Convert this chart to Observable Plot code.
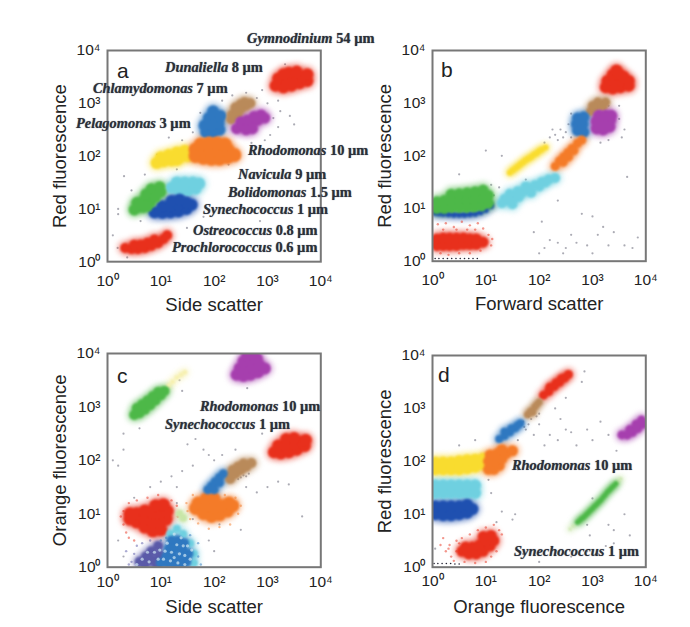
<!DOCTYPE html>
<html>
<head>
<meta charset="utf-8">
<script src="https://cdn.jsdelivr.net/npm/d3@7"></script>
<script src="https://cdn.jsdelivr.net/npm/@observablehq/plot@0.6"></script>
<style>
   body { margin: 0; background: #fff; }
   #fig { position: relative; width: 690px; height: 627px; overflow: hidden; }
   #fig svg { position: absolute; overflow: visible; background: none; }
   .lab { position: absolute; white-space: nowrap; transform: translateY(-50%); line-height: 1;
      font-family: "Liberation Serif", serif; font-weight: bold; font-size: 14.4px; color: #2b3038; text-shadow: 0 0 1px #667; }
   .lab i { font-style: italic; }
   .let { position: absolute; transform: translateY(-50%); line-height: 0.9;
      font-family: "Liberation Sans", sans-serif; font-size: 21px; color: #222; }
</style>
</head>
<body>
<div id="fig"></div>
<script>
"use strict";

// all points are log10 values [x, y]
const tick_values = [1, 10, 100, 1000, 10000]
const tick_labels = ["10⁰", "10¹", "10²", "10³", "10⁴"]

const a_gym = [[3.15,3.33],[3.3,3.3],[3.45,3.33],[3.6,3.38],[3.75,3.42],[3.2,3.47],[3.35,3.45],[3.5,3.47],[3.65,3.5],[3.75,3.55],[3.4,3.58],[3.55,3.6],[3.3,3.55]]
const a_brown = [[2.33,2.78],[2.42,2.84],[2.5,2.9],[2.6,2.96],[2.68,3.0],[2.4,2.92],[2.5,2.98],[2.57,3.02],[2.32,2.7],[2.44,2.8]]
const a_purple = [[2.42,2.52],[2.55,2.55],[2.68,2.6],[2.82,2.68],[2.95,2.72],[2.5,2.65],[2.62,2.68],[2.75,2.75],[2.88,2.78],[2.6,2.5],[2.72,2.52]]
const a_blue = [[1.85,2.45],[1.98,2.45],[2.1,2.5],[1.82,2.58],[1.95,2.6],[2.08,2.62],[1.9,2.72],[2.02,2.75],[2.12,2.76],[1.98,2.85]]
const a_orange = [[1.65,2.0],[1.8,1.97],[1.95,1.95],[2.1,1.95],[2.25,1.98],[2.38,2.02],[1.65,2.12],[1.8,2.12],[1.95,2.1],[2.1,2.1],[2.25,2.12],[1.75,2.22],[1.9,2.24],[2.05,2.24],[2.2,2.22]]
const a_yellow = [[0.92,1.87],[1.05,1.9],[1.2,1.92],[1.35,1.97],[1.5,2.0],[1.0,1.98],[1.15,2.02],[1.3,2.07],[1.45,2.1],[1.3,1.93]]
const a_cyan = [[1.2,1.4],[1.35,1.35],[1.5,1.35],[1.65,1.38],[1.3,1.5],[1.45,1.5],[1.6,1.5],[1.72,1.48],[1.4,1.42]]
const a_green = [[0.5,0.98],[0.55,1.02],[0.67,1.03],[0.8,1.12],[0.55,1.12],[0.68,1.17],[0.82,1.25],[0.72,1.28],[0.9,1.35],[0.82,1.38],[0.98,1.42],[0.62,1.08],[0.75,1.05],[0.9,1.22],[1.0,1.32]]
const a_navy = [[0.88,0.93],[1.03,0.92],[1.18,0.93],[1.33,0.95],[1.48,1.0],[1.58,1.08],[1.03,1.05],[1.18,1.05],[1.33,1.08],[1.48,1.12],[1.2,1.15],[1.35,1.18]]
const a_pro = [[0.33,0.26],[0.45,0.24],[0.57,0.24],[0.7,0.26],[0.82,0.3],[0.95,0.35],[1.05,0.43],[1.12,0.5],[0.5,0.32],[0.62,0.32],[0.75,0.36],[0.88,0.42]]
const a_specks = [[1.74,2.82],[2.15,3.05],[2.34,3.15],[3.33,3.74],[3.24,2.85],[3.42,2.76],[3.11,2.72],[1.15,2.35],[0.31,1.62],[0.93,2.03],[2.27,1.84],[0.19,0.26],[0.37,0.08],[0.62,0.77],[1.49,0.64],[2.86,0.77],[0.1,0.5],[0.2,0.9],[3.2,2.55],[3.5,2.6],[2.8,3.1],[2.9,3.25],[2.6,3.2],[1.6,2.45],[1.4,2.3],[1.3,1.75],[0.7,1.65],[0.45,1.35],[0.2,1.0],[1.8,0.85],[3.05,2.4],[2.95,2.3],[2.7,2.25],[3.0,3.0],[3.2,3.05]]

const b_red = [[3.25,3.3],[3.38,3.28],[3.52,3.3],[3.68,3.33],[3.28,3.42],[3.42,3.42],[3.56,3.42],[3.68,3.42],[3.38,3.54],[3.5,3.55],[3.58,3.5],[3.45,3.62]]
const b_brown = [[2.96,2.84],[3.05,2.92],[3.15,2.98],[3.25,3.02],[3.1,3.02],[3.0,2.95],[3.2,2.94]]
const b_purple = [[3.08,2.52],[3.2,2.5],[3.32,2.55],[3.08,2.65],[3.2,2.65],[3.33,2.68],[3.12,2.76],[3.25,2.76],[3.35,2.76]]
const b_blue = [[2.72,2.48],[2.84,2.45],[2.7,2.6],[2.82,2.6],[2.72,2.72],[2.84,2.74],[2.78,2.66]]
const b_orange = [[2.3,1.8],[2.38,1.9],[2.46,1.98],[2.54,2.06],[2.62,2.14],[2.72,2.24],[2.8,2.3],[2.45,1.88],[2.55,1.98],[2.65,2.1]]
const b_yellow = [[1.45,1.68],[1.5,1.72],[1.55,1.76],[1.6,1.8],[1.65,1.84],[1.7,1.88],[1.75,1.92],[1.8,1.95],[1.85,1.98],[1.9,2.02],[1.95,2.05],[2.0,2.09],[2.05,2.12],[2.12,2.16]]
const b_cyan = [[1.3,1.1],[1.42,1.15],[1.55,1.2],[1.68,1.3],[1.8,1.38],[1.92,1.44],[2.05,1.5],[2.18,1.55],[2.3,1.58],[1.45,1.28],[1.6,1.33],[1.75,1.42],[1.5,1.08],[1.85,1.3],[2.0,1.42],[1.35,1.18],[1.62,1.22],[2.12,1.5]]
const b_navy = [[0.05,0.92],[0.12,0.91],[0.2,0.9],[0.3,0.89],[0.4,0.88],[0.5,0.88],[0.6,0.88],[0.7,0.89],[0.8,0.9],[0.9,0.93],[1.0,0.97],[1.1,1.05]]
const b_green = [[0.08,1.0],[0.22,1.0],[0.36,1.02],[0.5,1.02],[0.64,1.02],[0.78,1.03],[0.92,1.05],[1.05,1.1],[0.08,1.13],[0.22,1.15],[0.36,1.15],[0.5,1.17],[0.64,1.17],[0.78,1.18],[0.92,1.2],[1.05,1.25],[0.35,1.27],[0.5,1.28],[0.65,1.3],[0.8,1.32],[0.95,1.35]]
const b_pro = [[0.08,0.3],[0.08,0.42],[0.2,0.3],[0.2,0.44],[0.32,0.3],[0.32,0.44],[0.45,0.3],[0.45,0.44],[0.58,0.32],[0.58,0.44],[0.7,0.32],[0.7,0.42],[0.82,0.32],[0.82,0.42],[0.95,0.36]]
const b_pro_fringe = [[0.1,0.7],[0.25,0.72],[0.4,0.65],[0.55,0.75],[0.7,0.68],[0.85,0.72],[0.95,0.62],[0.15,0.15],[0.3,0.12],[0.5,0.15],[0.7,0.15],[0.9,0.2],[1.05,0.5],[1.1,0.3],[1.12,0.42],[0.2,0.6],[0.45,0.6],[0.65,0.6],[0.8,0.6]]
const b_specks = [[2.1,2.25],[2.2,2.35],[2.3,2.4],[2.4,2.5],[2.5,2.45],[2.55,2.6],[2.35,2.3],[2.25,2.5],[2.45,2.35],[2.6,2.35],[2.6,2.8],[3.5,2.7],[3.6,2.5],[3.55,2.35],[3.3,2.3],[3.15,2.25],[3.3,2.95],[3.5,2.95],[1.0,2.1],[1.3,2.0],[0.5,1.65],[3.65,1.6],[1.25,1.4],[1.15,1.25],[1.1,1.45],[1.75,1.55],[2.35,1.15],[2.8,0.9],[3.0,0.85],[3.2,0.65],[2.2,0.4],[2.35,0.35],[2.1,0.25],[2.0,0.15],[2.45,0.15],[2.6,0.5],[2.7,0.35],[2.9,0.3],[3.1,0.5],[3.3,0.3],[3.4,0.55],[3.6,0.3],[3.75,0.25],[3.85,0.45],[2.05,0.75],[1.9,0.55],[3.0,0.15],[2.5,0.25]]
const b_black = [[0.05,0.05],[0.12,0.05],[0.2,0.05],[0.28,0.05],[0.36,0.05],[0.44,0.05],[0.52,0.05],[0.6,0.05],[0.68,0.05],[0.76,0.05],[0.84,0.05]]

const c_purple = [[2.42,3.6],[2.55,3.58],[2.68,3.6],[2.82,3.65],[2.95,3.72],[2.48,3.72],[2.6,3.72],[2.72,3.74],[2.85,3.78],[2.55,3.85],[2.68,3.88],[2.8,3.9],[2.62,3.97],[2.75,3.97]]
const c_green = [[0.5,2.85],[0.6,2.88],[0.7,2.95],[0.8,3.03],[0.9,3.12],[1.0,3.22],[1.07,3.3],[0.55,2.98],[0.65,3.05],[0.75,3.12],[0.85,3.2],[0.95,3.28]]
const c_tail = [[1.15,3.4],[1.22,3.47],[1.3,3.55],[1.38,3.6],[1.45,3.65]]
const c_red = [[3.12,2.15],[3.25,2.13],[3.4,2.15],[3.55,2.2],[3.7,2.27],[3.2,2.28],[3.35,2.28],[3.5,2.3],[3.65,2.35],[3.35,2.4],[3.5,2.42],[3.72,2.38]]
const c_brown = [[2.3,1.72],[2.4,1.75],[2.5,1.82],[2.6,1.88],[2.7,1.95],[2.35,1.82],[2.45,1.88],[2.55,1.94],[2.3,1.65]]
const c_blue = [[1.88,1.45],[1.95,1.52],[2.02,1.6],[2.1,1.68],[2.17,1.75],[2.0,1.45],[2.1,1.58]]
const c_orange = [[1.65,1.1],[1.8,1.0],[1.95,0.95],[2.1,0.98],[2.25,1.05],[2.35,1.15],[1.7,1.2],[1.85,1.15],[2.0,1.12],[2.15,1.15],[2.28,1.2],[1.85,1.28],[2.0,1.28]]
const c_orange_fringe = [[1.48,1.2],[1.5,1.05],[1.55,0.9],[1.7,0.82],[1.9,0.72],[2.1,0.75],[2.3,0.8],[2.45,1.0],[2.5,1.15],[2.4,1.3],[2.2,1.35],[1.6,1.35]]
const c_pro = [[0.42,0.9],[0.55,0.85],[0.7,0.75],[0.85,0.68],[1.0,0.7],[0.42,1.0],[0.55,1.0],[0.7,0.9],[0.85,0.85],[1.0,0.85],[1.1,0.9],[0.7,1.05],[0.85,1.02],[1.0,1.02],[1.12,1.05],[0.9,1.15],[1.05,1.17]]
const c_pro_fringe = [[0.25,0.95],[0.3,0.8],[0.35,0.65],[0.4,0.55],[0.5,0.5],[0.3,1.05],[0.4,1.2],[0.55,1.25],[0.75,1.3],[0.95,1.35],[1.2,1.25],[1.3,1.15],[1.32,0.95]]
const c_pale = [[1.35,1.0],[1.42,0.92]]
const c_cyan = [[1.3,0.72],[1.42,0.62],[1.55,0.45],[1.62,0.25],[1.62,0.08],[1.18,0.62]]
const c_navy = [[1.2,0.5],[1.32,0.5],[1.44,0.45],[1.15,0.35],[1.28,0.35],[1.42,0.3],[1.52,0.25],[1.1,0.2],[1.22,0.2],[1.35,0.15],[1.48,0.1],[1.0,0.08],[1.12,0.08],[1.25,0.05],[1.4,0.03]]
const c_navy_fringe = [[1.1,0.55],[1.0,0.5],[1.55,0.6],[1.7,0.45],[1.7,0.2],[1.75,0.05]]
const c_violet = [[0.6,0.1],[0.72,0.2],[0.82,0.3],[0.95,0.4],[0.7,0.05],[0.85,0.12],[0.98,0.22],[0.92,0.05]]
const c_violet_fringe = [[0.45,0.1],[0.5,0.25],[0.55,0.4],[0.65,0.45],[0.8,0.5],[0.35,0.3],[0.4,0.05]]
const c_gaps = [[1.25,0.62],[1.38,0.55],[1.5,0.4],[1.12,0.45],[1.3,0.42],[1.45,0.22],[1.2,0.28],[1.35,0.25],[1.55,0.15],[1.05,0.15],[1.18,0.12],[1.32,0.08],[1.45,0.05],[0.95,0.15],[0.78,0.1],[0.65,0.15],[0.88,0.28],[0.75,0.28],[0.98,0.32],[0.55,0.05],[1.08,0.3],[1.25,0.18],[1.42,0.4],[1.58,0.32]]
const c_specks = [[1.3,1.5],[1.5,2.3],[1.65,2.4],[1.8,2.2],[1.9,2.1],[1.6,1.9],[1.4,1.8],[1.2,1.7],[1.0,1.6],[0.8,1.5],[0.2,1.9],[0.1,2.0],[0.3,2.2],[2.0,2.0],[2.15,2.1],[2.4,2.2],[2.9,2.5],[3.2,1.6],[3.4,1.55],[3.65,0.95],[3.0,1.5],[2.8,1.4],[2.6,1.5],[2.5,0.7],[1.9,0.5],[2.0,0.3],[1.6,0.9],[1.3,1.2],[0.5,1.3],[0.2,0.5],[0.3,0.2],[2.55,1.72],[2.6,1.7],[2.5,1.68],[2.45,1.65],[2.65,1.75],[2.62,3.35],[2.1,0.8],[1.2,2.6],[0.6,2.6],[0.3,2.5],[2.2,3.0],[1.4,3.3],[1.35,3.5]]

const d_red = [[2.08,3.25],[2.18,3.32],[2.28,3.42],[2.38,3.5],[2.48,3.58],[2.55,3.64],[2.2,3.4],[2.32,3.48],[2.42,3.56]]
const d_brown = [[1.78,2.88],[1.82,2.92],[1.85,2.95],[1.92,3.03],[1.96,3.08],[2.0,3.12],[1.88,2.93]]
const d_blue = [[1.25,2.42],[1.35,2.48],[1.45,2.55],[1.55,2.63],[1.65,2.72],[1.35,2.56],[1.48,2.62],[1.6,2.68]]
const d_orange = [[1.05,1.85],[1.15,1.85],[1.25,1.92],[1.05,2.0],[1.18,2.02],[1.3,2.05],[1.08,2.12],[1.22,2.15],[1.38,2.15],[1.5,2.2],[1.3,2.22]]
const d_yellow = [[0.05,1.85],[0.2,1.85],[0.35,1.85],[0.5,1.85],[0.65,1.87],[0.8,1.9],[0.95,1.95],[0.05,1.98],[0.2,1.98],[0.35,1.98],[0.5,2.0],[0.65,2.02],[0.8,2.03],[0.95,2.05]]
const d_cyan = [[0.05,1.4],[0.2,1.4],[0.35,1.4],[0.5,1.4],[0.65,1.4],[0.8,1.4],[0.05,1.55],[0.2,1.55],[0.35,1.55],[0.5,1.55],[0.65,1.55],[0.8,1.55]]
const d_navy = [[0.05,1.0],[0.2,0.98],[0.35,0.98],[0.5,1.0],[0.65,1.03],[0.05,1.15],[0.2,1.15],[0.35,1.15],[0.5,1.15],[0.65,1.18],[0.75,1.1]]
const d_purple = [[3.55,2.5],[3.65,2.5],[3.75,2.55],[3.85,2.62],[3.95,2.7],[3.7,2.6],[3.82,2.7],[3.92,2.78]]
const d_green = [[2.72,0.85],[2.76,0.88],[2.8,0.92],[2.84,0.95],[2.88,0.99],[2.92,1.03],[2.96,1.07],[3.0,1.11],[3.04,1.15],[3.08,1.19],[3.12,1.23],[3.16,1.27],[3.2,1.32],[3.24,1.37],[3.28,1.42],[3.32,1.46],[3.36,1.5],[3.4,1.54],[3.44,1.58]]
const d_tail = [[2.58,0.72],[2.64,0.78],[3.48,1.62],[3.53,1.67]]
const d_pro = [[0.55,0.3],[0.68,0.25],[0.82,0.25],[0.95,0.3],[1.08,0.4],[1.15,0.5],[0.62,0.38],[0.75,0.38],[0.88,0.42],[1.0,0.5],[1.1,0.6],[0.95,0.58]]
const d_pro_fringe = [[0.15,0.42],[0.25,0.3],[0.32,0.42],[0.2,0.55],[0.35,0.2],[0.45,0.5],[0.4,0.12],[0.55,0.55],[0.6,0.1],[0.7,0.62],[0.8,0.08],[0.85,0.7],[1.0,0.1],[1.15,0.8],[1.25,0.7],[1.3,0.62],[1.2,0.3],[0.3,0.35],[0.5,0.45],[0.45,0.3],[1.1,0.2],[1.0,0.75]]
const d_specks = [[1.75,2.6],[1.9,2.5],[2.0,2.7],[2.2,2.5],[2.1,2.3],[2.35,2.4],[2.5,2.6],[2.6,2.55],[2.7,2.3],[2.4,2.8],[2.9,2.6],[3.0,2.4],[3.15,2.75],[3.3,2.5],[3.45,2.2],[1.6,2.4],[1.8,2.85],[2.0,2.9],[2.3,3.0],[2.2,3.3],[2.5,3.2],[2.8,3.5],[2.85,3.7],[1.6,1.85],[1.8,1.9],[0.8,2.4],[0.5,2.3],[1.05,1.65],[1.1,1.4],[1.3,1.05],[1.5,0.9],[1.55,1.0],[1.2,0.85],[3.3,0.8],[3.4,0.7],[2.95,0.6],[2.6,0.2],[2.9,0.3],[3.1,0.25],[3.25,0.4],[3.4,0.45],[2.9,0.8],[3.6,1.0],[1.7,0.25],[2.0,0.1],[0.05,0.35],[3.7,0.6],[3.0,1.3],[1.7,2.75],[1.72,2.65],[1.8,2.7],[1.85,2.8],[1.95,2.85]]
const d_black = [[0.03,0.07],[0.1,0.07],[0.18,0.07],[0.26,0.07],[0.34,0.07],[0.42,0.06],[0.5,0.06]]

const red = "#e8301c", brown = "#b98a5a", purple = "#a63fae", blue = "#2f78c0", orange = "#f47b28"
const yellow = "#f9dc2f", cyan = "#6fd0e0", green = "#4db848", navy = "#1f50b0", violet = "#5a5aa8"
const pale_green = "#c8e6a8", pale_yellow = "#f6f0b0"

const to_rows = pts => pts.map(p => ({"x": 10 ** p[0], "y": 10 ** p[1]}))

const fig = document.querySelector("#fig")

const panels = [
   {"x_label": "Side scatter", "y_label": "Red fluorescence", "left": 106.7, "top": 49.5, "h": 211.2, "pad": 13, "off": 49, "specks": a_specks, "black": [], "gaps": [], "fringe": [], "clusters": [
      [a_gym, red, 6], [a_blue, blue, 6], [a_brown, brown, 5], [a_purple, purple, 5.5], [a_yellow, yellow, 6], [a_orange, orange, 7],
      [a_cyan, cyan, 6], [a_navy, navy, 6], [a_green, green, 5.5], [a_pro, red, 5]]},
   {"x_label": "Forward scatter", "y_label": "Red fluorescence", "left": 431.7, "top": 50, "h": 210.7, "pad": 13, "off": 49, "specks": b_specks, "black": b_black, "gaps": [], "fringe": [[b_pro_fringe, red]], "clusters": [
      [b_red, red, 6], [b_brown, brown, 4.5], [b_purple, purple, 6], [b_blue, blue, 5.5], [b_orange, orange, 4.5], [b_yellow, yellow, 3],
      [b_cyan, cyan, 5], [b_navy, navy, 3], [b_green, green, 5.5], [b_pro, red, 5.5]]},
   {"x_label": "Side scatter", "y_label": "Orange fluorescence", "left": 106.7, "top": 353, "h": 213.7, "pad": 9, "off": 46, "specks": c_specks, "black": [], "gaps": c_gaps,
      "fringe": [[c_orange_fringe, orange], [c_pro_fringe, red], [c_navy_fringe, blue], [c_violet_fringe, violet]], "clusters": [
      [c_purple, purple, 6], [c_tail, pale_yellow, 2.5], [c_green, green, 5], [c_red, red, 6], [c_orange, orange, 6.5], [c_brown, brown, 5], [c_blue, blue, 4.5],
      [c_violet, violet, 5], [c_pale, pale_green, 4], [c_pro, red, 6.5], [c_cyan, cyan, 4], [c_navy, blue, 5]]},
   {"x_label": "Orange fluorescence", "y_label": "Red fluorescence", "left": 431.7, "top": 355, "h": 211.7, "pad": 8, "off": 46, "specks": d_specks, "black": d_black, "gaps": [], "fringe": [[d_pro_fringe, red]], "clusters": [
      [d_red, red, 4.5], [d_brown, brown, 3.5], [d_blue, blue, 4], [d_yellow, yellow, 6], [d_orange, orange, 5.5], [d_cyan, cyan, 6],
      [d_navy, navy, 6], [d_purple, purple, 4.5], [d_tail, pale_green, 1.5], [d_green, green, 2.5], [d_pro, red, 5.5]]}
]

for (const p of panels) {
   const marks = [Plot.dot(to_rows(p["specks"]), {"x": "x", "y": "y", "r": 1.1, "fill": "#667", "fillOpacity": 0.55})]
   for (const [pts, color, r] of p["clusters"]) {
      marks.push(Plot.dot(to_rows(pts), {"x": "x", "y": "y", "r": r + 3, "fill": color, "fillOpacity": 0.35, "clip": true, "imageFilter": "blur(2.5px)"}))
   }
   for (const [pts, color] of p["fringe"]) {
      marks.push(Plot.dot(to_rows(pts), {"x": "x", "y": "y", "r": 1.2, "fill": color, "fillOpacity": 0.5, "clip": true}))
   }
   for (const [pts, color, r] of p["clusters"]) {
      marks.push(Plot.dot(to_rows(pts), {"x": "x", "y": "y", "r": r, "fill": color, "clip": true, "imageFilter": "blur(1px)"}))
   }
   // lighter flecks so the low cloud in panel c looks stippled
   marks.push(Plot.dot(to_rows(p["gaps"]), {"x": "x", "y": "y", "r": 1.6, "fill": "#cfe6f2", "fillOpacity": 0.7, "clip": true, "imageFilter": "blur(0.5px)"}))
   marks.push(Plot.dot(to_rows(p["black"]), {"x": "x", "y": "y", "r": 0.8, "fill": "#223"}))
   marks.push(Plot.frame({"stroke": "#777", "strokeWidth": 2}))
   marks.push(Plot.axisX(tick_values, {"tickSize": 0, "tickPadding": p["pad"], "tickFormat": d => tick_labels[tick_values.indexOf(d)], "label": null, "fontSize": 15.5}))
   marks.push(Plot.axisY(tick_values, {"tickSize": 0, "tickPadding": 7, "tickFormat": d => tick_labels[tick_values.indexOf(d)], "label": null, "fontSize": 15.5}))
   marks.push(Plot.axisX([], {"label": p["x_label"], "labelAnchor": "center", "labelArrow": "none", "labelOffset": p["off"], "fontSize": 18.5}))
   marks.push(Plot.axisY([], {"label": p["y_label"], "labelAnchor": "center", "labelArrow": "none", "labelOffset": 55, "fontSize": 18.5}))

   const chart = Plot.plot({
      "width": 320,
      "height": 10 + p["h"] + 60,
      "marginLeft": 70,
      "marginRight": 36.7,
      "marginTop": 10,
      "marginBottom": 60,
      "style": {"fontFamily": "Liberation Sans", "fontSize": "16px", "color": "#222"},
      "x": {"type": "log", "domain": [1, 10000]},
      "y": {"type": "log", "domain": [1, 10000]},
      "marks": marks
   })
   chart.style.left = `${p["left"] - 70}px`
   chart.style.top = `${p["top"] - 10}px`
   fig.append(chart)
}

const labels = [
   ["Gymnodinium", "54 µm", 247, 38], ["Dunaliella", "8 µm", 165, 67], ["Chlamydomonas", "7 µm", 93, 88],
   ["Pelagomonas", "3 µm", 76, 123], ["Rhodomonas", "10 µm", 248, 150], ["Navicula", "9 µm", 238, 174],
   ["Bolidomonas", "1.5 µm", 228, 192], ["Synechococcus", "1 µm", 203, 209], ["Ostreococcus", "0.8 µm", 193, 230],
   ["Prochlorococcus", "0.6 µm", 172, 247], ["Rhodomonas", "10 µm", 200, 406], ["Synechococcus", "1 µm", 165, 424],
   ["Rhodomonas", "10 µm", 512, 465], ["Synechococcus", "1 µm", 514, 551]
]
for (const [name, size, x, y] of labels) {
   const el = document.createElement("div")
   el.className = "lab"
   el.style.left = `${x}px`
   el.style.top = `${y}px`
   el.innerHTML = `<i>${name}</i> ${size}`
   fig.append(el)
}

const letters = [["a", 117, 71], ["b", 441, 70], ["c", 117, 376], ["d", 438, 375]]
for (const [t, x, y] of letters) {
   const el = document.createElement("div")
   el.className = "let"
   el.style.left = `${x}px`
   el.style.top = `${y}px`
   el.textContent = t
   fig.append(el)
}
</script>
</body>
</html>
